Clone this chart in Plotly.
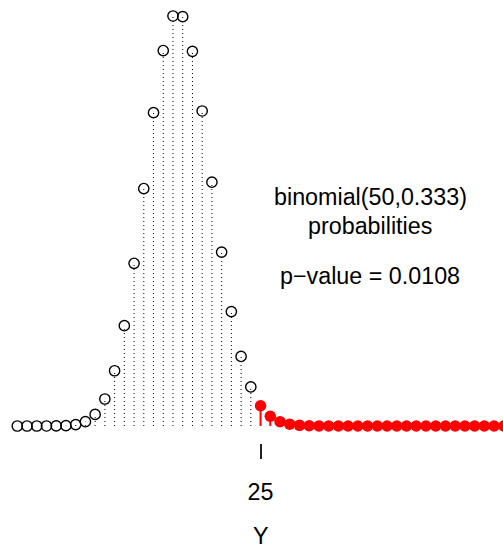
import plotly.graph_objects as go

# binomial(50, 0.333) probabilities, k = 0..50
k_values = list(range(51))
probs = [1.6e-9, 4.0e-8, 4.9e-7, 3.9e-6, 2.30e-5, 1.06e-4, 3.96e-4, 1.242e-3, 3.334e-3, 7.767e-3,
         0.01590, 0.02886, 0.04683, 0.06834, 0.09018, 0.10805, 0.11800, 0.11780, 0.10782, 0.09066,
         0.07016, 0.05004, 0.03293, 0.02001, 0.01124, 0.005836, 0.002802, 0.001243, 0.000510, 0.000193,
         6.75e-5, 2.17e-5, 6.4e-6, 1.75e-6, 4.4e-7, 1.0e-7, 2e-8, 4e-9, 7e-10, 1e-10,
         1e-11, 2e-12, 2e-13, 2e-14, 2e-15, 1e-16, 1e-17, 5e-19, 2e-20, 5e-22, 7e-24]
observed = 25
tick_vals = [25]
tick_text = ["25"]
title_lines = ["binomial(50,0.333)", "probabilities"]
pvalue_text = "p\u2212value = 0.0108"
x_title = "Y"

FONT = "Liberation Sans, Arial, Helvetica, sans-serif"
FS = 23.3

lo_k = [k for k in k_values if k < observed]
lo_p = [probs[k] for k in lo_k]
hi_k = [k for k in k_values if k >= observed]
hi_p = [probs[k] for k in hi_k]

def stems(ks, ps):
    xs, ys = [], []
    for k, p in zip(ks, ps):
        xs += [k, k, None]
        ys += [0, p, None]
    return xs, ys

fig = go.Figure()
sx, sy = stems(lo_k, lo_p)
fig.add_trace(go.Scatter(x=sx, y=sy, mode="lines",
                         line=dict(color="black", width=1, dash="1px,3px"),
                         hoverinfo="skip", showlegend=False))
sx, sy = stems(hi_k, hi_p)
fig.add_trace(go.Scatter(x=sx, y=sy, mode="lines",
                         line=dict(color="red", width=2),
                         hoverinfo="skip", showlegend=False))
fig.add_trace(go.Scatter(x=lo_k, y=lo_p, mode="markers",
                         marker=dict(symbol="circle-open", size=10.3, color="black",
                                     line=dict(width=1.4)),
                         showlegend=False))
fig.add_trace(go.Scatter(x=hi_k, y=hi_p, mode="markers",
                         marker=dict(symbol="circle", size=11.5, color="red"),
                         showlegend=False))

for txt, yp in [(title_lines[0], 0.5553), (title_lines[1], 0.4898), (pvalue_text, 0.377)]:
    fig.add_annotation(x=0.7356, y=yp, xref="paper", yref="paper",
                       text=txt, showarrow=False, xanchor="center", yanchor="middle",
                       font=dict(family=FONT, size=FS, color="black"))

fig.add_annotation(x=tick_vals[0], y=-0.2099, xref="x", yref="paper",
                   text=x_title, showarrow=False, xanchor="center", yanchor="middle",
                   font=dict(family=FONT, size=FS, color="black"))

fig.update_layout(
    width=503, height=551,
    margin=dict(l=0, r=0, t=0, b=108, pad=0),
    paper_bgcolor="white", plot_bgcolor="white",
    showlegend=False,
    xaxis=dict(range=[-1.778, 49.918], showgrid=False, zeroline=False, showline=False,
               tickvals=tick_vals, ticktext=tick_text, ticks="outside", ticklen=15,
               tickwidth=1.5, tickcolor="#222", ticklabelstandoff=13,
               tickfont=dict(family=FONT, size=FS, color="black"),
               automargin=False),
    yaxis=dict(range=[-0.004893, 0.12260], visible=False, showgrid=False, zeroline=False),
)

fig.write_html("out.html")
